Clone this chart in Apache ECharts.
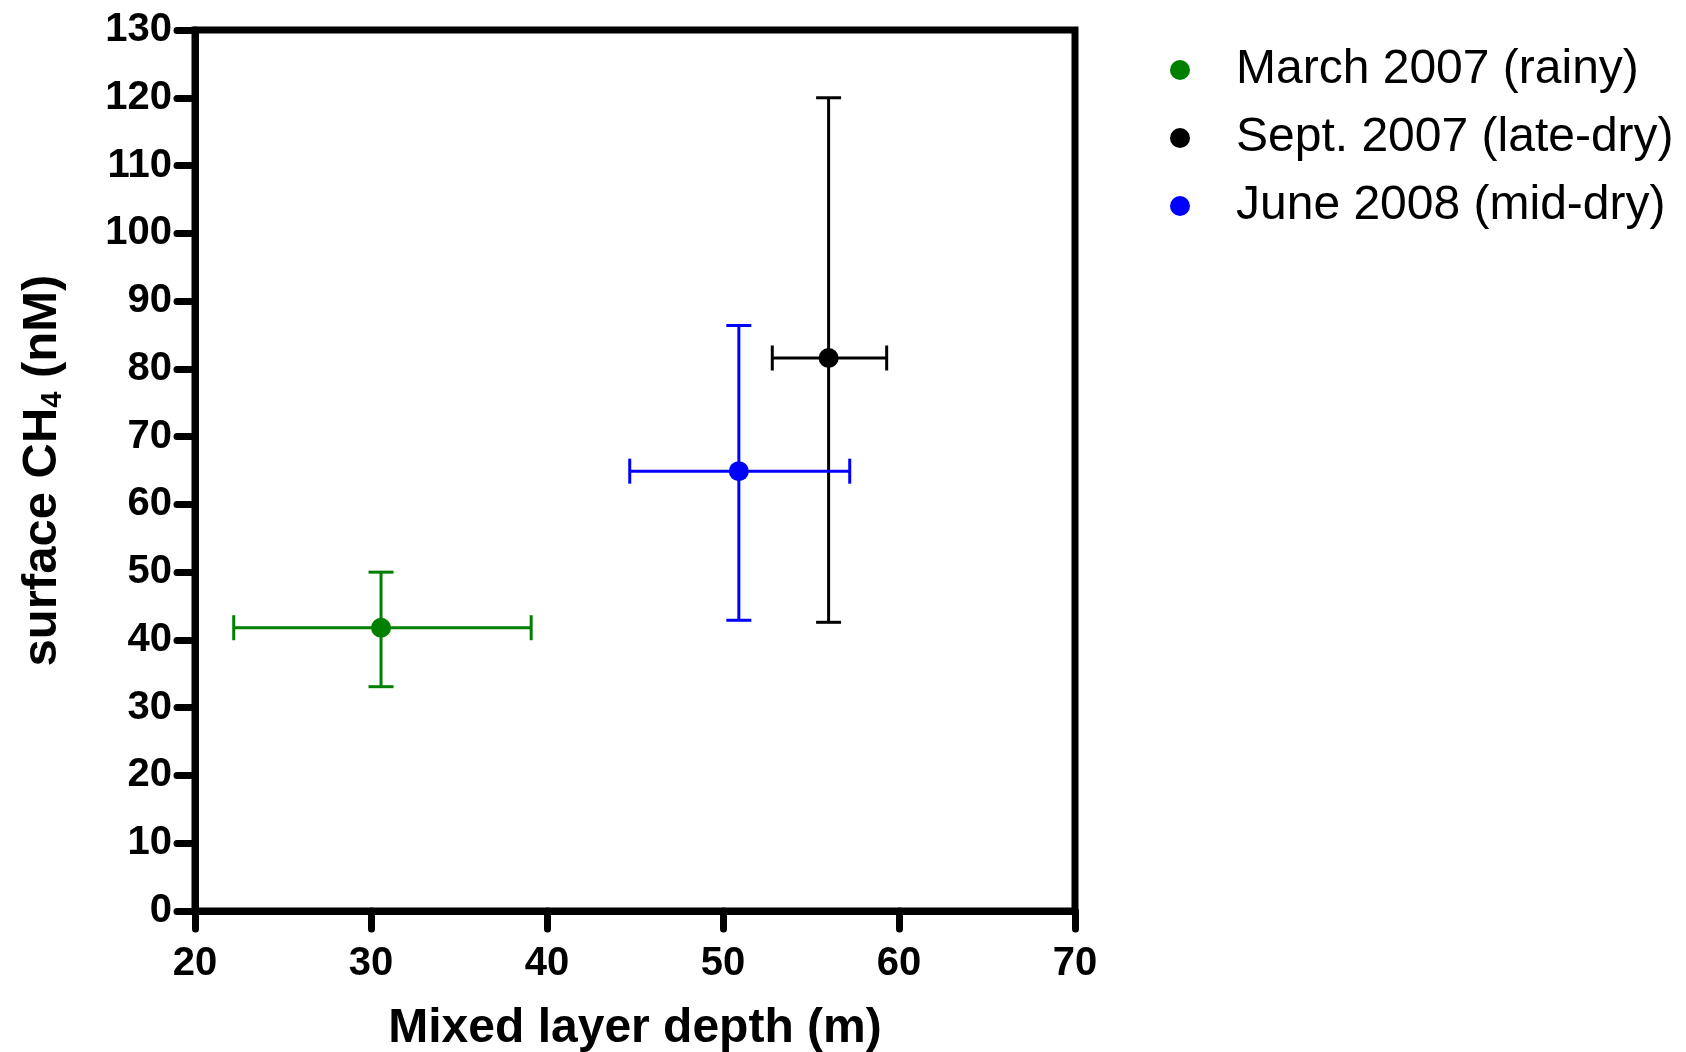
<!DOCTYPE html>
<html><head><meta charset="utf-8">
<script src="https://cdn.jsdelivr.net/npm/echarts/dist/echarts.min.js"></script>
<style>html,body{margin:0;padding:0;background:#fff}#c{width:1686px;height:1052px}</style>
</head><body><div id="c"></div>
<script>
const seriesNames = ['March 2007 (rainy)', 'Sept. 2007 (late-dry)', 'June 2008 (mid-dry)'];
const seriesColors = ['#008000', '#000000', '#0000ff'];
const depth = [30.57, 56.0, 50.9];
const ch4 = [41.8, 81.6, 64.9];
const depthLow = [22.2, 52.8, 44.7];
const depthHigh = [39.1, 59.3, 57.2];
const ch4Low = [33.1, 42.6, 42.9];
const ch4High = [50.0, 120.0, 86.4];
const xMin = 20, xMax = 70, xStep = 10;
const yMin = 0, yMax = 130, yStep = 10;

const FONT = '"Liberation Sans", Arial, sans-serif';
const chart = echarts.init(document.getElementById('c'), null, {renderer: 'canvas'});

const series = [];
seriesNames.forEach((name, i) => {
  const col = seriesColors[i];
  series.push({
    name: name,
    type: 'custom',
    z: 2,
    silent: true,
    data: [[depth[i], ch4[i], depthLow[i], depthHigh[i], ch4Low[i], ch4High[i]]],
    renderItem: function (params, api) {
      const xl = api.coord([api.value(2), api.value(1)]);
      const xh = api.coord([api.value(3), api.value(1)]);
      const yl = api.coord([api.value(0), api.value(4)]);
      const yh = api.coord([api.value(0), api.value(5)]);
      const h = 12.5;
      const st = {stroke: col, lineWidth: 3, fill: null};
      return {type: 'group', children: [
        {type: 'line', shape: {x1: xl[0], y1: xl[1], x2: xh[0], y2: xh[1]}, style: st},
        {type: 'line', shape: {x1: xl[0], y1: xl[1] - h, x2: xl[0], y2: xl[1] + h}, style: st},
        {type: 'line', shape: {x1: xh[0], y1: xh[1] - h, x2: xh[0], y2: xh[1] + h}, style: st},
        {type: 'line', shape: {x1: yl[0], y1: yl[1], x2: yh[0], y2: yh[1]}, style: st},
        {type: 'line', shape: {x1: yl[0] - h, y1: yl[1], x2: yl[0] + h, y2: yl[1]}, style: st},
        {type: 'line', shape: {x1: yh[0] - h, y1: yh[1], x2: yh[0] + h, y2: yh[1]}, style: st}
      ]};
    }
  });
  series.push({
    name: name,
    type: 'scatter',
    z: 3,
    symbol: 'circle',
    symbolSize: 20,
    itemStyle: {color: col, opacity: 1},
    data: [[depth[i], ch4[i]]]
  });
});

chart.setOption({
  animation: false,
  backgroundColor: '#fff',
  textStyle: {fontFamily: FONT},
  grid: {left: 195, right: 611, top: 30, bottom: 141, containLabel: false, outerBoundsMode: 'none',
         show: true, borderColor: '#000', borderWidth: 7, backgroundColor: 'transparent'},
  legend: {
    orient: 'vertical',
    left: 1165,
    top: 40,
    itemWidth: 20,
    itemHeight: 20,
    itemGap: 18,
    icon: 'circle',
    data: seriesNames.map((n, i) => ({name: n, icon: 'circle', itemStyle: {color: seriesColors[i], opacity: 1}})),
    textStyle: {fontFamily: FONT, fontSize: 48, color: '#000', lineHeight: 50, padding: [0, 0, 0, 41]}
  },
  xAxis: {
    type: 'value', min: xMin, max: xMax, interval: xStep,
    name: 'Mixed layer depth (m)', nameLocation: 'middle', nameGap: 94,
    nameTextStyle: {fontFamily: FONT, fontSize: 48, fontWeight: 'bold', color: '#000'},
    axisLine: {show: true, onZero: false, lineStyle: {color: '#000', width: 7, cap: 'round'}},
    axisTick: {show: true, length: 18, lineStyle: {color: '#000', width: 7, cap: 'round'}},
    axisLabel: {fontFamily: FONT, fontSize: 40, fontWeight: 'bold', color: '#000', margin: 33},
    splitLine: {show: false}
  },
  yAxis: {
    type: 'value', min: yMin, max: yMax, interval: yStep,
    name: '{a|surface CH}{b|4}{a| (nM)}', nameLocation: 'middle', nameGap: 128, nameRotate: 90,
    nameTextStyle: {
      fontFamily: FONT, fontSize: 49, fontWeight: 'bold', color: '#000',
      rich: {
        a: {fontFamily: FONT, fontSize: 49, fontWeight: 'bold', color: '#000'},
        b: {fontFamily: FONT, fontSize: 29, fontWeight: 'bold', color: '#000', verticalAlign: 'bottom', padding: [16, 0, 0, 0]}
      }
    },
    axisLine: {show: true, onZero: false, lineStyle: {color: '#000', width: 7, cap: 'round'}},
    axisTick: {show: true, length: 18, lineStyle: {color: '#000', width: 7, cap: 'round'}},
    axisLabel: {fontFamily: FONT, fontSize: 40, fontWeight: 'bold', color: '#000', margin: 23},
    splitLine: {show: false}
  },
  series: series
});
</script>
</body></html>
